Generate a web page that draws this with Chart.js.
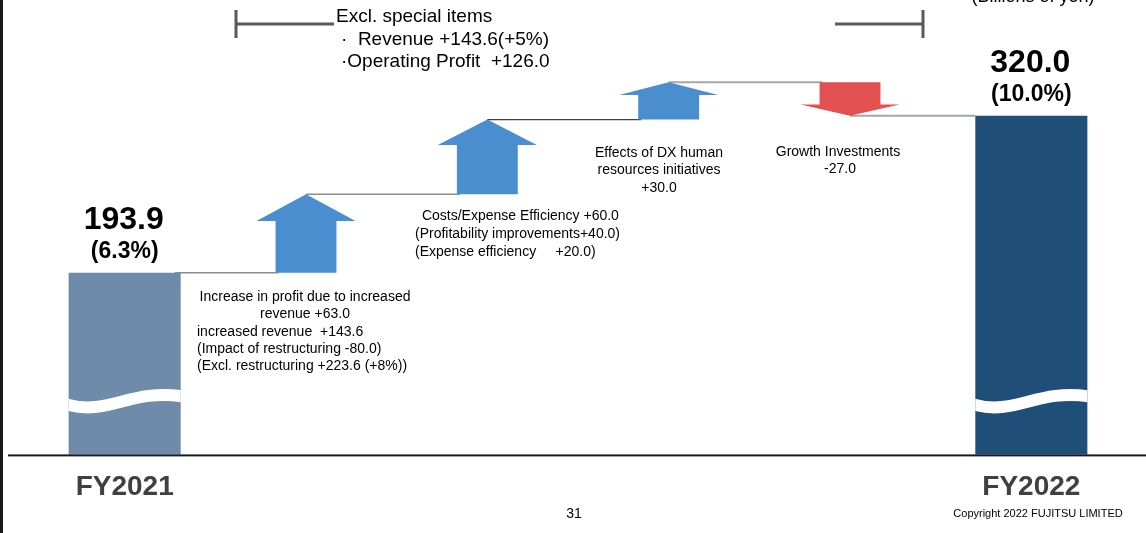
<!DOCTYPE html>
<html>
<head>
<meta charset="utf-8">
<script src="https://cdn.jsdelivr.net/npm/chart.js@4/dist/chart.umd.min.js"></script>
<style>
  html, body { margin: 0; padding: 0; background: #ffffff; overflow: hidden; }
  #wrap { width: 1146px; height: 533px; position: relative; }
</style>
</head>
<body>
<div id="wrap"><canvas id="c" width="1146" height="533"></canvas></div>
<script>
// ---------------- DATA ----------------
const categories = ['FY2021', 'Revenue increase', 'Costs/Expense Efficiency', 'DX human resources', 'Growth Investments', 'FY2022'];
const totalValues = [193.9, 320.0];          // FY2021, FY2022 operating profit
const totalMargins = ['(6.3%)', '(10.0%)'];  // operating margins
const stepValues = [63.0, 60.0, 30.0, -27.0]; // bridge items
const unitLabel = '(Billions of yen)';
const exclNote = ['Excl. special items', '·  Revenue +143.6(+5%)', '·Operating Profit  +126.0'];
const revenueNote = ['Increase in profit due to increased', 'revenue +63.0', 'increased revenue  +143.6', '(Impact of restructuring -80.0)', '(Excl. restructuring +223.6 (+8%))'];
const costNote = [' Costs/Expense Efficiency +60.0', '(Profitability improvements+40.0)', '(Expense efficiency     +20.0)'];
const dxNote = ['Effects of DX human', 'resources initiatives', '+30.0'];
const growthNote = ['Growth Investments', '-27.0'];
const pageNumber = '31';
const copyright = 'Copyright 2022 FUJITSU LIMITED';

// derived floating ranges for bridge arrows
const stepRanges = [];
{ let run = totalValues[0]; for (const v of stepValues) { stepRanges.push([run, run + v]); run += v; } }
const totalData = categories.map((c, i) => i === 0 ? totalValues[0] : (i === categories.length - 1 ? totalValues[1] : null));
const stepData = categories.map((c, i) => (i > 0 && i < categories.length - 1) ? stepRanges[i - 1] : null);

// ---------------- STYLE ----------------
const FONT = "'Liberation Sans', Arial, Helvetica, sans-serif";
const SHAFT = 0.615;
const UP = '#4A8ECF', DOWN = '#E35050';

const decor = {
  id: 'decor',
  beforeDatasetsDraw(chart) {
    const { ctx, scales: { y } } = chart;
    const tot = chart.getDatasetMeta(0).data, st = chart.getDatasetMeta(1).data;
    const n = categories.length;
    const levels = [totalValues[0], ...stepRanges.map(r => r[1])];
    const colors = ['#8C8C8C', '#8C8C8C', '#404040', '#A6A6A6', '#A6A6A6'];
    const widths = [1.5, 1.5, 1.2, 2, 2];
    ctx.save();
    for (let i = 0; i < n - 1; i++) {
      const cur = i === 0 ? tot[0] : st[i];
      const nxt = (i + 1 === n - 1) ? tot[n - 1] : st[i + 1];
      const x0 = i === 0 ? cur.x + cur.width / 2 - 6 : cur.x;
      const x1 = (i + 1 === n - 1) ? nxt.x - nxt.width / 2 : nxt.x - nxt.width * SHAFT / 2 + 3;
      const yy = y.getPixelForValue(levels[i]);
      ctx.strokeStyle = colors[i];
      ctx.lineWidth = widths[i];
      ctx.beginPath(); ctx.moveTo(x0, yy); ctx.lineTo(x1, yy); ctx.stroke();
    }
    ctx.restore();
  },
  afterDatasetsDraw(chart) {
    const { ctx, scales: { y }, chartArea } = chart;
    const tot = chart.getDatasetMeta(0).data, st = chart.getDatasetMeta(1).data;
    const n = categories.length;
    ctx.save();
    // arrows
    for (let i = 1; i < n - 1; i++) {
      const el = st[i];
      const r = stepData[i];
      const from = y.getPixelForValue(r[0]), to = y.getPixelForValue(r[1]);
      const dir = Math.sign(to - from);
      const len = Math.abs(to - from);
      const hh = Math.min(27, len * 0.34);
      const hw = el.width, sw = el.width * SHAFT;
      const hb = to - dir * hh;
      ctx.fillStyle = dir < 0 ? UP : DOWN;
      ctx.beginPath();
      ctx.moveTo(el.x - sw / 2, from);
      ctx.lineTo(el.x - sw / 2, hb);
      ctx.lineTo(el.x - hw / 2, hb);
      ctx.lineTo(el.x, to);
      ctx.lineTo(el.x + hw / 2, hb);
      ctx.lineTo(el.x + sw / 2, hb);
      ctx.lineTo(el.x + sw / 2, from);
      ctx.closePath();
      ctx.fill();
    }
    // wave breaks + value labels on total bars
    [0, n - 1].forEach((idx, k) => {
      const el = tot[idx];
      const L = el.x - el.width / 2, R = el.x + el.width / 2, w = el.width, b = chartArea.bottom;
      ctx.save();
      ctx.beginPath(); ctx.rect(L, el.y, w, b - el.y); ctx.clip();
      ctx.strokeStyle = '#ffffff'; ctx.lineWidth = 12;
      ctx.beginPath();
      ctx.moveTo(L - 2, b - 50);
      ctx.bezierCurveTo(L + 0.35 * w, b - 38, L + 0.55 * w, b - 66, R + 2, b - 58);
      ctx.stroke();
      ctx.restore();
      ctx.fillStyle = '#000000';
      ctx.textAlign = 'center'; ctx.textBaseline = 'middle';
      ctx.font = 'bold 32px ' + FONT;
      ctx.fillText(totalValues[k].toFixed(1), el.x - 1, el.y - 53);
      ctx.font = 'bold 23px ' + FONT;
      ctx.fillText(totalMargins[k], el.x, el.y - 21);
    });
    // baseline
    ctx.fillStyle = '#1a1a1a';
    ctx.fillRect(8, chartArea.bottom, chart.width - 8, 2);
    // left border
    ctx.fillRect(0, 0, 3, chart.height);
    // brackets
    ctx.strokeStyle = '#595959'; ctx.lineWidth = 3;
    ctx.beginPath();
    ctx.moveTo(236, 10); ctx.lineTo(236, 38);
    ctx.moveTo(236, 24); ctx.lineTo(334, 24);
    ctx.moveTo(835, 24); ctx.lineTo(923, 24);
    ctx.moveTo(923, 10); ctx.lineTo(923, 38);
    ctx.stroke();
    // texts
    ctx.fillStyle = '#000000';
    ctx.textBaseline = 'middle';
    ctx.font = '19px ' + FONT; ctx.textAlign = 'left';
    ctx.fillText(exclNote[0], 336, 17);
    ctx.fillText(exclNote[1], 341, 40);
    ctx.fillText(exclNote[2], 341, 62);
    ctx.font = '18px ' + FONT; ctx.textAlign = 'center'; ctx.textBaseline = 'alphabetic';
    ctx.fillText(unitLabel, 1033, 2);
    ctx.textBaseline = 'middle';
    ctx.font = '14px ' + FONT;
    ctx.textAlign = 'center';
    ctx.fillText(revenueNote[0], 305, 297);
    ctx.fillText(revenueNote[1], 305, 314);
    ctx.textAlign = 'left';
    ctx.fillText(revenueNote[2], 197, 332);
    ctx.fillText(revenueNote[3], 197, 349);
    ctx.fillText(revenueNote[4], 197, 366);
    ctx.fillText(costNote[0], 418, 216);
    ctx.fillText(costNote[1], 415, 234);
    ctx.fillText(costNote[2], 415, 252);
    ctx.textAlign = 'center';
    ctx.fillText(dxNote[0], 659, 153);
    ctx.fillText(dxNote[1], 659, 170);
    ctx.fillText(dxNote[2], 659, 188);
    ctx.fillText(growthNote[0], 838, 152);
    ctx.fillText(growthNote[1], 840, 169);
    ctx.font = '14px ' + FONT;
    ctx.fillText(pageNumber, 574, 514);
    ctx.font = '11px ' + FONT;
    ctx.fillText(copyright, 1038, 514);
    ctx.restore();
  }
};

new Chart(document.getElementById('c'), {
  type: 'bar',
  data: {
    labels: categories,
    datasets: [
      {
        label: 'Operating profit',
        data: totalData,
        backgroundColor: ['#6E8CA9', null, null, null, null, '#1F4E79'],
        grouped: false,
        categoryPercentage: 1,
        barPercentage: 0.618
      },
      {
        label: 'Bridge',
        data: stepData,
        backgroundColor: 'rgba(0,0,0,0)',
        grouped: false,
        categoryPercentage: 1,
        barPercentage: 0.546
      }
    ]
  },
  options: {
    responsive: false,
    animation: false,
    devicePixelRatio: 1,
    layout: { padding: { left: 34, right: 24, top: 41, bottom: 13 } },
    plugins: { legend: { display: false }, tooltip: { enabled: false } },
    scales: {
      x: {
        offset: true,
        grid: { display: false, drawTicks: false },
        border: { display: false },
        ticks: {
          autoSkip: false, maxRotation: 0, padding: 16,
          color: '#404040',
          font: { family: FONT, size: 28, weight: 'bold' },
          callback: (v, i) => (i === 0 || i === categories.length - 1) ? categories[i] : ''
        }
      },
      y: { display: false, min: 48, max: 380 }
    }
  },
  plugins: [decor]
});
</script>
</body>
</html>
